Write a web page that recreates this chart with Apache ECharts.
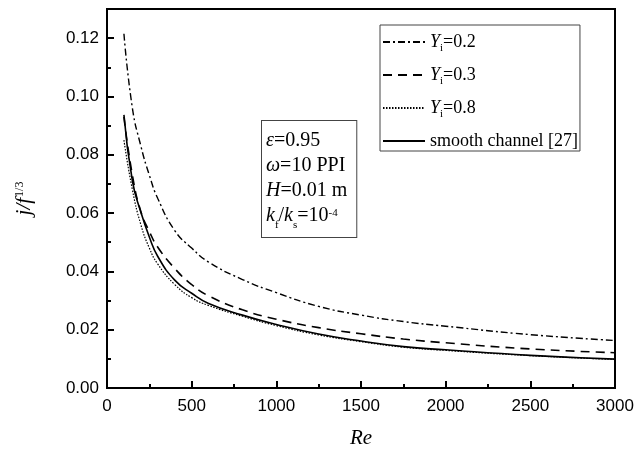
<!DOCTYPE html>
<html>
<head>
<meta charset="utf-8">
<script src="https://cdn.jsdelivr.net/npm/echarts@6/dist/echarts.min.js"></script>
<style>
  html, body { margin: 0; padding: 0; background: #fff; }
</style>
</head>
<body>
<div id="main" style="width: 644px;height:450px;"></div>
<script>
// Re values
const re = [100, 150, 200, 250, 300, 400, 500, 600, 800, 1000, 1250, 1500, 1750, 2000, 2500, 3000];
// j/f^(1/3)
const yi02 = [0.1215, 0.096, 0.083, 0.073, 0.065, 0.054, 0.048, 0.0432, 0.0372, 0.0327, 0.0280, 0.0250, 0.0228, 0.0212, 0.0183, 0.0163];
const yi03 = [0.093, 0.073, 0.0605, 0.0537, 0.0483, 0.041, 0.0355, 0.0316, 0.0268, 0.0236, 0.0207, 0.0186, 0.0168, 0.0155, 0.0134, 0.0121];
const yi08 = [0.085, 0.068, 0.056, 0.048, 0.0425, 0.0355, 0.031, 0.0283, 0.0246, 0.0214, 0.0182, 0.0159, 0.0140, 0.0129, 0.0111, 0.0098];
const smooth = [0.0937, 0.071, 0.0603, 0.0518, 0.0451, 0.037, 0.0325, 0.029, 0.0250, 0.0218, 0.0185, 0.0161, 0.0142, 0.0131, 0.0112, 0.0099];
const xTicks = [0, 500, 1000, 1500, 2000, 2500, 3000];
const yTicks = [0, 0.02, 0.04, 0.06, 0.08, 0.10, 0.12];

function pairs(ys) {
  const out = [];
  for (let i = 0; i < re.length; i++) {
    out.push([re[i], ys[i]]);
  }
  return out;
}

const myChart = echarts.init(document.getElementById('main'));

const serif = 'Liberation Serif';
const sans = 'Liberation Sans';

const subRich = {
  it: {fontFamily: serif, fontStyle: 'italic', fontSize: 18, color: '#000', lineHeight: 18, verticalAlign: 'top'},
  n: {fontFamily: serif, fontSize: 18, color: '#000', lineHeight: 18, verticalAlign: 'top'},
  sub: {fontFamily: serif, fontSize: 11, color: '#000', lineHeight: 11, padding: [10, 0, 0, 0], verticalAlign: 'top'}
};

const option = {
  animation: false,
  grid: {
    left: 107, top: 9, right: 29, bottom: 62,
    outerBoundsMode: 'none',
    show: true, borderColor: '#000', borderWidth: 2, backgroundColor: 'transparent'
  },
  legend: {
    orient: 'vertical',
    left: 380, top: 25,
    itemWidth: 42, itemHeight: 14, itemGap: 12,
    padding: [8, 2, 1, 2],
    borderColor: '#444', borderWidth: 1,
    itemStyle: {opacity: 0},
    data: ['Yi=0.2', 'Yi=0.3', 'Yi=0.8', 'smooth channel [27]'],
    formatter: function (name) {
      if (name.indexOf('Yi=') === 0) {
        return '{it|Y}{sub|i}{n|=' + name.slice(3) + '}';
      }
      return '{n|' + name + '}';
    },
    textStyle: {rich: subRich, padding: [0, 0, 0, 0]}
  },
  xAxis: {
    type: 'value', min: 0, max: 3000, interval: 500,
    name: 'Re', nameLocation: 'middle', nameGap: 40,
    nameTextStyle: {fontFamily: serif, fontStyle: 'italic', fontSize: 21, color: '#000'},
    axisLine: {show: true, lineStyle: {color: '#000', width: 2}},
    axisTick: {show: true, inside: true, length: 7, lineStyle: {color: '#000', width: 2}},
    minorTick: {show: true, splitNumber: 2, length: 4, lineStyle: {color: '#000', width: 2}},
    splitLine: {show: false},
    axisLabel: {
      margin: 10, color: '#000', fontFamily: sans, fontSize: 17,
      formatter: function (v) { return xTicks.indexOf(v) >= 0 ? String(v) : ''; }
    }
  },
  yAxis: [
    {
      type: 'value', min: 0, max: 0.13, interval: 0.02,
      name: '{it|j}{it|/}{it|f}{sup|1/3}', nameLocation: 'middle', nameGap: 72,
      nameTextStyle: {
        rich: {
          it: {fontFamily: serif, fontStyle: 'italic', fontSize: 21, color: '#000', lineHeight: 21, verticalAlign: 'bottom'},
          sup: {fontFamily: serif, fontSize: 12, color: '#000', lineHeight: 12, padding: [0, 0, 9, 1], verticalAlign: 'bottom'}
        }
      },
      axisLine: {show: true, lineStyle: {color: '#000', width: 2}},
      axisTick: {show: true, inside: true, length: 7, lineStyle: {color: '#000', width: 2}},
      splitLine: {show: false},
      axisLabel: {
        margin: 8, color: '#000', fontFamily: sans, fontSize: 17, showMaxLabel: false,
        formatter: function (v) {
          for (let i = 0; i < yTicks.length; i++) {
            if (Math.abs(yTicks[i] - v) < 1e-9) return yTicks[i].toFixed(2);
          }
          return '';
        }
      }
    },
    {
      type: 'value', min: 0, max: 0.13, interval: 0.01, position: 'left',
      axisLine: {show: false},
      axisTick: {show: true, inside: true, length: 4, lineStyle: {color: '#000', width: 2}},
      splitLine: {show: false},
      axisLabel: {show: false}
    }
  ],
  graphic: [
    {
      type: 'text',
      left: 261, top: 120,
      style: {
        text: '{it|ε}{n|=0.95}\n{it|ω}{n|=10 PPI}\n{it|H}{n|=0.01 m}\n{it|k}{sub|f}{n|/}{it|k}{sub|s}{n|=10}{sup|-4}',
        padding: [10, 9, 6, 4],
        borderColor: '#444', borderWidth: 1,
        backgroundColor: '#fff',
        rich: {
          it: {fontFamily: serif, fontStyle: 'italic', fontSize: 20, color: '#000', lineHeight: 25, verticalAlign: 'top'},
          n: {fontFamily: serif, fontSize: 20, color: '#000', lineHeight: 25, verticalAlign: 'top'},
          sub: {fontFamily: serif, fontSize: 11, color: '#000', lineHeight: 11, padding: [14, 0, 0, 0], verticalAlign: 'top'},
          sup: {fontFamily: serif, fontSize: 11, color: '#000', lineHeight: 11, padding: [2, 0, 0, 0], verticalAlign: 'top'}
        }
      },
      z: 10
    }
  ],
  series: [
    {
      name: 'Yi=0.2', type: 'line', smooth: true, symbol: 'none',
      lineStyle: {color: '#000', width: 1.4, type: [7, 3, 2, 3]},
      data: pairs(yi02)
    },
    {
      name: 'Yi=0.3', type: 'line', smooth: true, symbol: 'none',
      lineStyle: {color: '#000', width: 1.6, type: [9, 6]},
      data: pairs(yi03)
    },
    {
      name: 'Yi=0.8', type: 'line', smooth: true, symbol: 'none',
      lineStyle: {color: '#000', width: 1.2, type: [1.5, 1.5]},
      data: pairs(yi08)
    },
    {
      name: 'smooth channel [27]', type: 'line', smooth: true, symbol: 'none',
      lineStyle: {color: '#000', width: 1.6, type: 'solid'},
      data: pairs(smooth)
    }
  ]
};

myChart.setOption(option);
</script>
</body>
</html>
